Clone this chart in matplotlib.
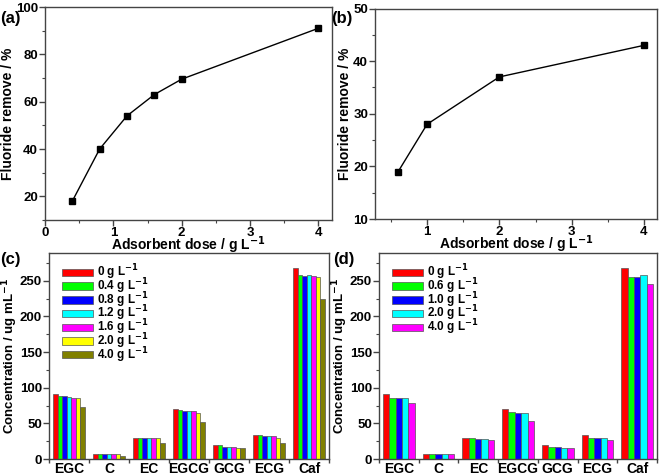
import numpy as np
import matplotlib
matplotlib.use('Agg')
import matplotlib.pyplot as plt
from matplotlib.ticker import AutoMinorLocator, MultipleLocator

plt.rcParams['font.family'] = ['Liberation Sans', 'DejaVu Sans']
plt.rcParams['font.weight'] = 'bold'
plt.rcParams['axes.labelweight'] = 'bold'
plt.rcParams['mathtext.default'] = 'bf'

# (a) and (b) fluoride removal
dose_a = [0.4, 0.8, 1.2, 1.6, 2.0, 4.0]
remove_a = [18, 40, 54, 63, 69.5, 91]
dose_b = [0.6, 1.0, 2.0, 4.0]
remove_b = [19, 28, 37, 43]

# (c) and (d) catechin concentrations
compounds = ['EGC', 'C', 'EC', 'EGCG', 'GCG', 'ECG', 'Caf']
labels_c = ['0 g L$^{-1}$', '0.4 g L$^{-1}$', '0.8 g L$^{-1}$', '1.2 g L$^{-1}$',
            '1.6 g L$^{-1}$', '2.0 g L$^{-1}$', '4.0 g L$^{-1}$']
conc_c = [
    [91, 7, 30, 70, 20, 33, 268],
    [88, 7, 30, 69, 19, 33, 258],
    [88, 7, 30, 68, 17, 32, 257],
    [87, 7, 29, 68, 17, 32, 258],
    [86, 7, 29, 68, 17, 32, 257],
    [86, 7, 29, 64, 16, 30, 255],
    [73, 4, 23, 52, 16, 22, 225],
]
labels_d = ['0 g L$^{-1}$', '0.6 g L$^{-1}$', '1.0 g L$^{-1}$', '2.0 g L$^{-1}$',
            '4.0 g L$^{-1}$']
conc_d = [
    [91, 7, 30, 70, 20, 33, 268],
    [86, 7, 29, 66, 17, 30, 255],
    [86, 7, 28, 64, 17, 30, 255],
    [85, 7, 28, 65, 16, 30, 258],
    [79, 7, 26, 54, 16, 26, 246],
]
colors_c = ['#ff0000', '#00ff00', '#0000ff', '#00ffff', '#ff00ff', '#ffff00', '#808000']
colors_d = ['#ff0000', '#00ff00', '#0000ff', '#00ffff', '#ff00ff']

W, H = 660.0, 475.0
fig = plt.figure(figsize=(6.6, 4.75), dpi=100)


def box(l, t, r, b):
    return [l / W, 1 - b / H, (r - l) / W, (b - t) / H]


ax_a = fig.add_axes(box(45, 7, 332, 220))
ax_b = fig.add_axes(box(375, 8.5, 657, 219))
ax_c = fig.add_axes(box(49, 253, 329, 459))
ax_d = fig.add_axes(box(379, 253, 657, 459))


def style(ax):
    for s in ax.spines.values():
        s.set_linewidth(1.0)
        s.set_color('#444444')
    ax.tick_params(which='major', direction='out', length=4, width=1,
                   labelsize=9.5, pad=1, color='#444444')
    ax.tick_params(which='minor', direction='out', length=2.5, width=0.8,
                   color='#444444')
    for t in ax.get_xticklabels() + ax.get_yticklabels():
        t.set_fontweight('bold')


# line panels
ax_a.plot(dose_a, remove_a, 'k-', marker='s', markersize=4, linewidth=1)
ax_a.set_xlim(0, 4.2)
ax_a.set_ylim(10, 100)
ax_a.xaxis.set_major_locator(MultipleLocator(1))
ax_a.yaxis.set_major_locator(MultipleLocator(20))
ax_a.xaxis.set_minor_locator(AutoMinorLocator(2))
ax_a.yaxis.set_minor_locator(MultipleLocator(10))
ax_a.set_ylabel('Fluoride remove / %', fontsize=10, labelpad=1)
ax_a.set_xlabel('Adsorbent dose / g L$^{-1}$', fontsize=10, labelpad=-3)

ax_b.plot(dose_b, remove_b, 'k-', marker='s', markersize=4, linewidth=1)
ax_b.set_xlim(0.28, 4.18)
ax_b.set_ylim(10, 50)
ax_b.xaxis.set_major_locator(MultipleLocator(1))
ax_b.yaxis.set_major_locator(MultipleLocator(10))
ax_b.xaxis.set_minor_locator(AutoMinorLocator(2))
ax_b.yaxis.set_minor_locator(AutoMinorLocator(2))
ax_b.set_ylabel('Fluoride remove / %', fontsize=10, labelpad=1)
ax_b.set_xlabel('Adsorbent dose / g L$^{-1}$', fontsize=10, labelpad=-3)


def bars(ax, conc, labels, colors):
    n = len(conc)
    x = np.arange(len(compounds))
    w = 0.8 / n
    for i in range(n):
        ax.bar(x - 0.4 + w * (i + 0.5), conc[i], w, color=colors[i],
               edgecolor='#555555', linewidth=0.5, label=labels[i])
    ax.set_xlim(-0.5, len(compounds) - 0.5)
    ax.set_ylim(0, 289)
    ax.set_xticks(np.arange(len(compounds) + 1) - 0.5)
    ax.set_xticklabels([])
    ax.set_xticks(x, minor=True)
    ax.set_xticklabels(compounds, minor=True)
    ax.yaxis.set_major_locator(MultipleLocator(50))
    ax.yaxis.set_minor_locator(AutoMinorLocator(2))
    ax.set_ylabel('Concentration / ug mL$^{-1}$', fontsize=9.5, labelpad=0)
    leg = ax.legend(loc='upper left', bbox_to_anchor=(0.035, 0.97), frameon=False,
                    fontsize=8.5, handlelength=2.6, handleheight=0.6,
                    labelspacing=-0.5, handletextpad=0.3, borderaxespad=0.2,
                    borderpad=0.1)
    for t in leg.get_texts():
        t.set_fontweight('bold')


bars(ax_c, conc_c, labels_c, colors_c)
bars(ax_d, conc_d, labels_d, colors_d)

for ax in (ax_a, ax_b, ax_c, ax_d):
    style(ax)

for ax in (ax_c, ax_d):
    ax.tick_params(axis='x', which='major', length=3)
    ax.tick_params(axis='x', which='minor', length=0, pad=2)
    for t in ax.get_xticklabels(minor=True):
        t.set_fontweight('bold')

fig.text(0.0, 0.952, '(a)', fontsize=12, fontweight='bold')
fig.text(0.502, 0.952, '(b)', fontsize=12, fontweight='bold')
fig.text(0.0, 0.445, '(c)', fontsize=12, fontweight='bold')
fig.text(0.505, 0.445, '(d)', fontsize=12, fontweight='bold')

fig.savefig('out.png', dpi=100)
